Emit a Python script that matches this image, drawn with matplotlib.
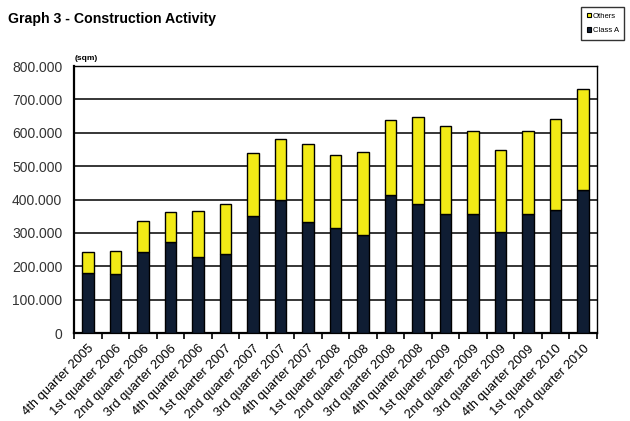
import numpy as np
import matplotlib.pyplot as plt
from matplotlib.patches import Patch
from matplotlib.ticker import FuncFormatter

plt.rcParams['font.family'] = ['Liberation Sans', 'DejaVu Sans']

quarters = ['4th quarter 2005', '1st quarter 2006', '2nd quarter 2006', '3rd quarter 2006',
            '4th quarter 2006', '1st quarter 2007', '2nd quarter 2007', '3rd quarter 2007',
            '4th quarter 2007', '1st quarter 2008', '2nd quarter 2008', '3rd quarter 2008',
            '4th quarter 2008', '1st quarter 2009', '2nd quarter 2009', '3rd quarter 2009',
            '4th quarter 2009', '1st quarter 2010', '2nd quarter 2010']
class_a = [180500, 176500, 242000, 273000, 229000, 237000, 352000, 400000, 333000, 315000,
           294000, 415000, 387000, 358000, 358000, 302000, 356000, 368000, 429000]
total = [241500, 246000, 335000, 363000, 365000, 388000, 541000, 582000, 568000, 534000,
         542500, 637500, 648500, 619500, 604500, 548500, 604500, 641500, 731000]
others = [t - a for t, a in zip(total, class_a)]

navy = '#0f1d33'
yellow = '#f2ea16'

fig = plt.figure(figsize=(6.3, 4.21), dpi=100)
ax = fig.add_axes([0.1175, 0.209, 0.83, 0.634])

x = np.arange(len(quarters))
w = 0.42
ax.bar(x, class_a, w, color=navy, edgecolor='black', linewidth=1.0, zorder=3)
ax.bar(x, others, w, bottom=class_a, color=yellow, edgecolor='black', linewidth=1.0, zorder=3)

ax.set_xlim(-0.5, len(quarters) - 0.5)
ax.set_ylim(0, 800000)
ax.set_yticks(np.arange(0, 800001, 100000))
ax.yaxis.set_major_formatter(FuncFormatter(lambda v, p: '0' if v == 0 else f'{int(v):,}'.replace(',', '.')))
ax.grid(axis='y', color='black', linewidth=1.1, zorder=0)

ax.set_xticks(x)
ax.set_xticklabels(quarters, rotation=45, ha='right', rotation_mode='anchor', fontsize=9.3)
ax.set_xticks(np.arange(-0.5, len(quarters)), minor=True)
ax.tick_params(axis='x', which='major', length=0, pad=7)
ax.tick_params(axis='x', which='minor', length=4, width=1.2, direction='out')
ax.tick_params(axis='y', length=0, labelsize=10, labelcolor='#333333', pad=8.5)

for s in ['left', 'bottom']:
    ax.spines[s].set_linewidth(1.6)
for s in ['top', 'right']:
    ax.spines[s].set_linewidth(1.0)

fig.text(0.013, 0.955, 'Graph 3 - Construction Activity', fontsize=10.2, fontweight='bold', va='center')
fig.text(0.119, 0.862, '(sqm)', fontsize=6, fontweight='bold', va='center')

handles = [Patch(facecolor=yellow, edgecolor='black', linewidth=0.8, label='Others'),
           Patch(facecolor=navy, edgecolor='black', linewidth=0.8, label='Class A')]
leg = fig.legend(handles=handles, loc='upper right', bbox_to_anchor=(0.997, 0.992),
                 fontsize=5.5, frameon=True, fancybox=False, handlelength=0.6, handleheight=0.6,
                 handletextpad=0.2, borderpad=0.7, labelspacing=1.0, edgecolor='black')
leg.get_frame().set_linewidth(1.0)

fig.savefig('out.png', dpi=100)
